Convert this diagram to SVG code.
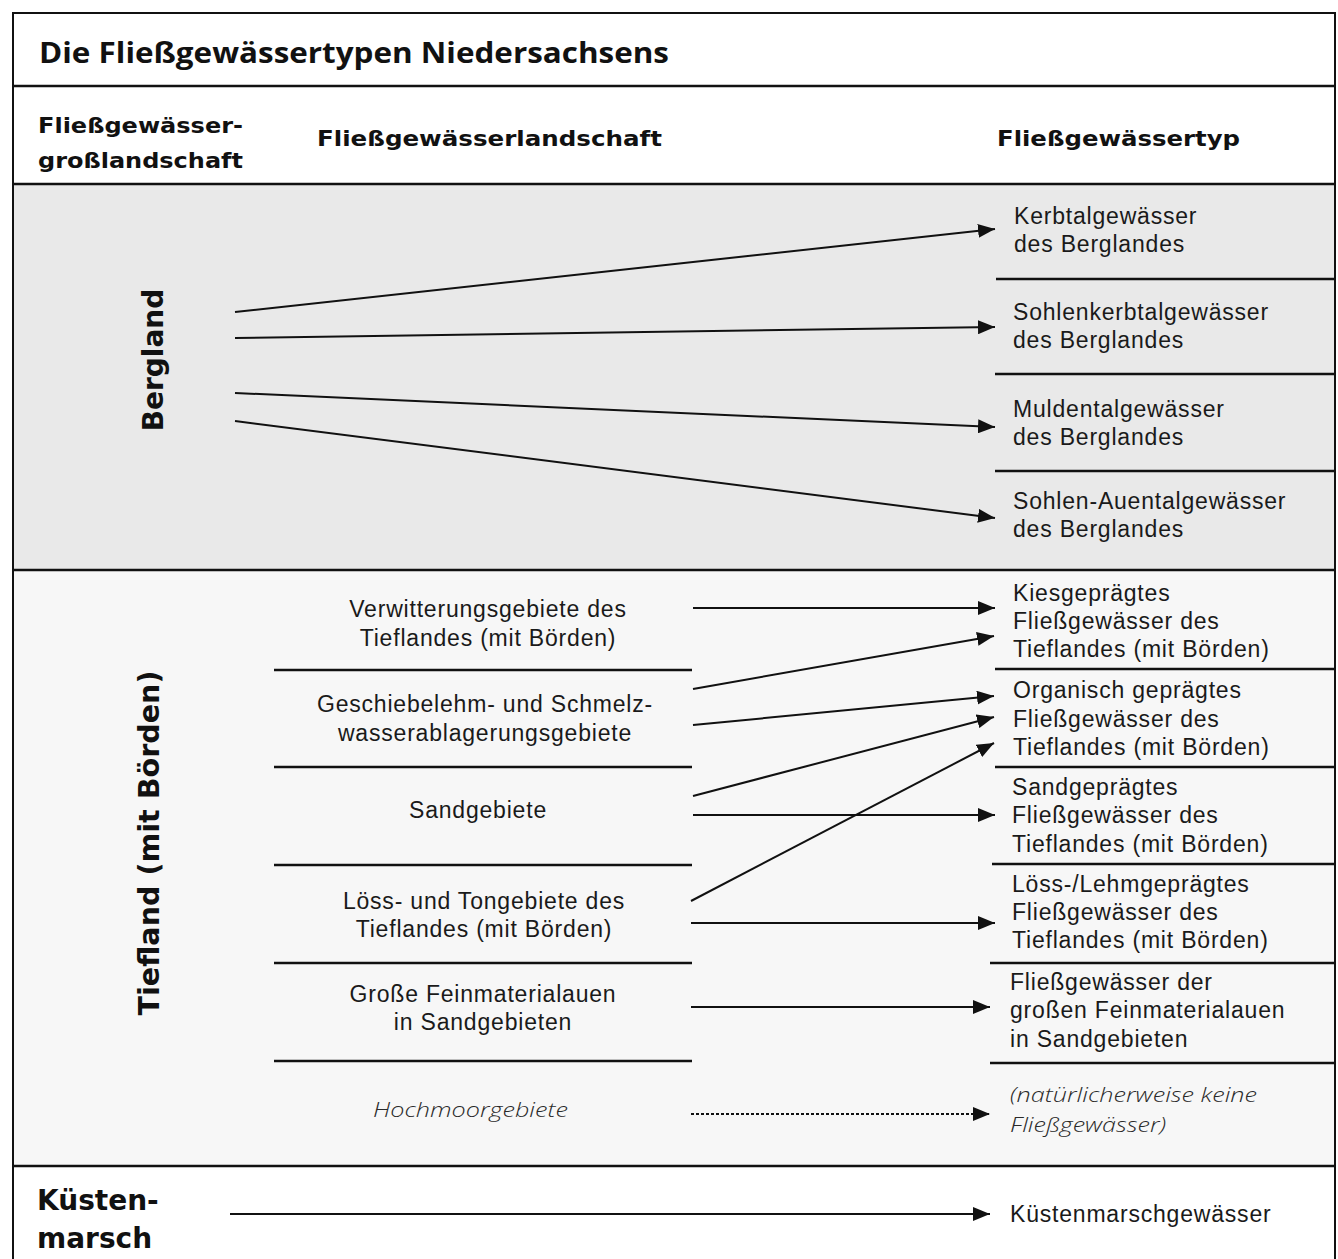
<svg xmlns="http://www.w3.org/2000/svg" width="1338" height="1259" viewBox="0 0 1338 1259">
<style>
.title{font-family:"Open Sans","Liberation Sans",sans-serif;font-weight:700;font-size:29px;fill:#111}
.hdr{font-family:"DejaVu Sans","Liberation Sans",sans-serif;font-weight:700;font-size:22px;fill:#111}
.big{font-family:"DejaVu Sans","Liberation Sans",sans-serif;font-weight:700;font-size:28px;fill:#111}
.t{font-family:"Liberation Sans",Arial,sans-serif;font-size:23px;letter-spacing:0.8px;fill:#1a1a1a}
.it{font-family:"Open Sans","Liberation Sans",sans-serif;font-style:italic;font-weight:300;font-size:21px;fill:#2a2a2a}
.sep{stroke:#111;stroke-width:2.5;fill:none}
.frame{stroke:#111;stroke-width:2;fill:none}
.arr{stroke:#111;stroke-width:2;fill:none;marker-end:url(#ah)}
.dash{stroke:#111;stroke-width:2;fill:none;stroke-dasharray:3 2;marker-end:url(#ah)}
</style>
<defs>
<marker id="ah" markerUnits="userSpaceOnUse" markerWidth="18" markerHeight="14" refX="17" refY="7" orient="auto">
<path d="M0,0 L17,7 L0,14 z" fill="#111"/>
</marker>
</defs>
<rect x="0" y="0" width="1338" height="1259" fill="#fff"/>
<g id="backgrounds">
<rect x="13" y="184" width="1322" height="386" fill="#e9e9e9"/>
<rect x="13" y="570" width="1322" height="596" fill="#f7f7f7"/>
</g>
<g id="frame">
<path class="frame" d="M13,1262 V13 H1335 V1262"/>
<line class="sep" x1="13" y1="86" x2="1335" y2="86"/>
<line class="sep" x1="13" y1="184" x2="1335" y2="184"/>
<line class="sep" x1="13" y1="570" x2="1335" y2="570"/>
<line class="sep" x1="13" y1="1166" x2="1335" y2="1166"/>
</g>
<g id="separators">
<line class="sep" x1="996" y1="279" x2="1335" y2="279"/>
<line class="sep" x1="995" y1="374" x2="1335" y2="374"/>
<line class="sep" x1="995" y1="471" x2="1335" y2="471"/>
<line class="sep" x1="274" y1="670" x2="692" y2="670"/>
<line class="sep" x1="274" y1="767" x2="692" y2="767"/>
<line class="sep" x1="274" y1="865" x2="692" y2="865"/>
<line class="sep" x1="274" y1="963" x2="692" y2="963"/>
<line class="sep" x1="274" y1="1061" x2="692" y2="1061"/>
<line class="sep" x1="995" y1="669" x2="1335" y2="669"/>
<line class="sep" x1="995" y1="767" x2="1335" y2="767"/>
<line class="sep" x1="992" y1="864" x2="1335" y2="864"/>
<line class="sep" x1="990" y1="963" x2="1335" y2="963"/>
<line class="sep" x1="990" y1="1063" x2="1335" y2="1063"/>
</g>
<g id="title"><text class="title" x="39" y="63" textLength="630" lengthAdjust="spacingAndGlyphs">Die Fließgewässertypen Niedersachsens</text></g>
<g id="header">
<text class="hdr" x="38" y="133" textLength="205" lengthAdjust="spacingAndGlyphs">Fließgewässer-</text>
<text class="hdr" x="38" y="168" textLength="205" lengthAdjust="spacingAndGlyphs">großlandschaft</text>
<text class="hdr" x="317" y="146" textLength="345" lengthAdjust="spacingAndGlyphs">Fließgewässerlandschaft</text>
<text class="hdr" x="997" y="146" textLength="243" lengthAdjust="spacingAndGlyphs">Fließgewässertyp</text>
</g>
<g id="bergland"><text class="big" transform="translate(163,360) rotate(-90)" text-anchor="middle">Bergland</text></g>
<g id="tiefland"><text class="big" transform="translate(159,843) rotate(-90)" text-anchor="middle" textLength="345" lengthAdjust="spacingAndGlyphs">Tiefland (mit Börden)</text></g>
<g id="kuestenmarsch">
<text class="big" x="37" y="1210">Küsten-</text>
<text class="big" x="37" y="1248">marsch</text>
</g>
<g id="typ-kerbtal"><text class="t" x="1014" y="224">Kerbtalgewässer</text><text class="t" x="1014" y="252">des Berglandes</text></g>
<g id="typ-sohlenkerbtal"><text class="t" x="1013" y="320">Sohlenkerbtalgewässer</text><text class="t" x="1013" y="348">des Berglandes</text></g>
<g id="typ-muldental"><text class="t" x="1013" y="417">Muldentalgewässer</text><text class="t" x="1013" y="445">des Berglandes</text></g>
<g id="typ-sohlenauental"><text class="t" x="1013" y="509">Sohlen-Auentalgewässer</text><text class="t" x="1013" y="537">des Berglandes</text></g>
<g id="land-verwitterung"><text class="t" x="488" y="617" text-anchor="middle">Verwitterungsgebiete des</text><text class="t" x="488" y="646" text-anchor="middle">Tieflandes (mit Börden)</text></g>
<g id="land-geschiebelehm"><text class="t" x="485" y="712" text-anchor="middle">Geschiebelehm- und Schmelz-</text><text class="t" x="485" y="741" text-anchor="middle">wasserablagerungsgebiete</text></g>
<g id="land-sand"><text class="t" x="478" y="818" text-anchor="middle">Sandgebiete</text></g>
<g id="land-loess"><text class="t" x="484" y="909" text-anchor="middle">Löss- und Tongebiete des</text><text class="t" x="484" y="937" text-anchor="middle">Tieflandes (mit Börden)</text></g>
<g id="land-feinmaterial"><text class="t" x="483" y="1002" text-anchor="middle">Große Feinmaterialauen</text><text class="t" x="483" y="1030" text-anchor="middle">in Sandgebieten</text></g>
<g id="land-hochmoor"><text class="it" x="373" y="1117" textLength="195" lengthAdjust="spacingAndGlyphs">Hochmoorgebiete</text></g>
<g id="typ-kies"><text class="t" x="1013" y="601">Kiesgeprägtes</text><text class="t" x="1013" y="629">Fließgewässer des</text><text class="t" x="1013" y="657">Tieflandes (mit Börden)</text></g>
<g id="typ-organisch"><text class="t" x="1013" y="698">Organisch geprägtes</text><text class="t" x="1013" y="727">Fließgewässer des</text><text class="t" x="1013" y="755">Tieflandes (mit Börden)</text></g>
<g id="typ-sand"><text class="t" x="1012" y="795">Sandgeprägtes</text><text class="t" x="1012" y="823">Fließgewässer des</text><text class="t" x="1012" y="852">Tieflandes (mit Börden)</text></g>
<g id="typ-loess"><text class="t" x="1012" y="892">Löss-/Lehmgeprägtes</text><text class="t" x="1012" y="920">Fließgewässer des</text><text class="t" x="1012" y="948">Tieflandes (mit Börden)</text></g>
<g id="typ-feinmaterial"><text class="t" x="1010" y="990">Fließgewässer der</text><text class="t" x="1010" y="1018">großen Feinmaterialauen</text><text class="t" x="1010" y="1047">in Sandgebieten</text></g>
<g id="typ-keine"><text class="it" x="1010" y="1102" textLength="247" lengthAdjust="spacingAndGlyphs">(natürlicherweise keine</text><text class="it" x="1010" y="1132" textLength="156" lengthAdjust="spacingAndGlyphs">Fließgewässer)</text></g>
<g id="typ-kuestenmarsch"><text class="t" x="1010" y="1222">Küstenmarschgewässer</text></g>
<g id="connectors">
<line class="arr" x1="235" y1="312" x2="995" y2="229"/>
<line class="arr" x1="235" y1="338" x2="995" y2="327"/>
<line class="arr" x1="235" y1="393" x2="995" y2="427"/>
<line class="arr" x1="235" y1="421" x2="995" y2="518"/>
<line class="arr" x1="693" y1="608" x2="995" y2="608"/>
<line class="arr" x1="693" y1="689" x2="994" y2="636"/>
<line class="arr" x1="693" y1="725" x2="994" y2="696"/>
<line class="arr" x1="693" y1="796" x2="994" y2="717"/>
<line class="arr" x1="693" y1="815" x2="995" y2="815"/>
<line class="arr" x1="691" y1="901" x2="994" y2="743"/>
<line class="arr" x1="691" y1="923" x2="995" y2="923"/>
<line class="arr" x1="691" y1="1007" x2="990" y2="1007"/>
<line class="dash" x1="691" y1="1114" x2="990" y2="1114"/>
<line class="arr" x1="230" y1="1214" x2="990" y2="1214"/>
</g>
</svg>
